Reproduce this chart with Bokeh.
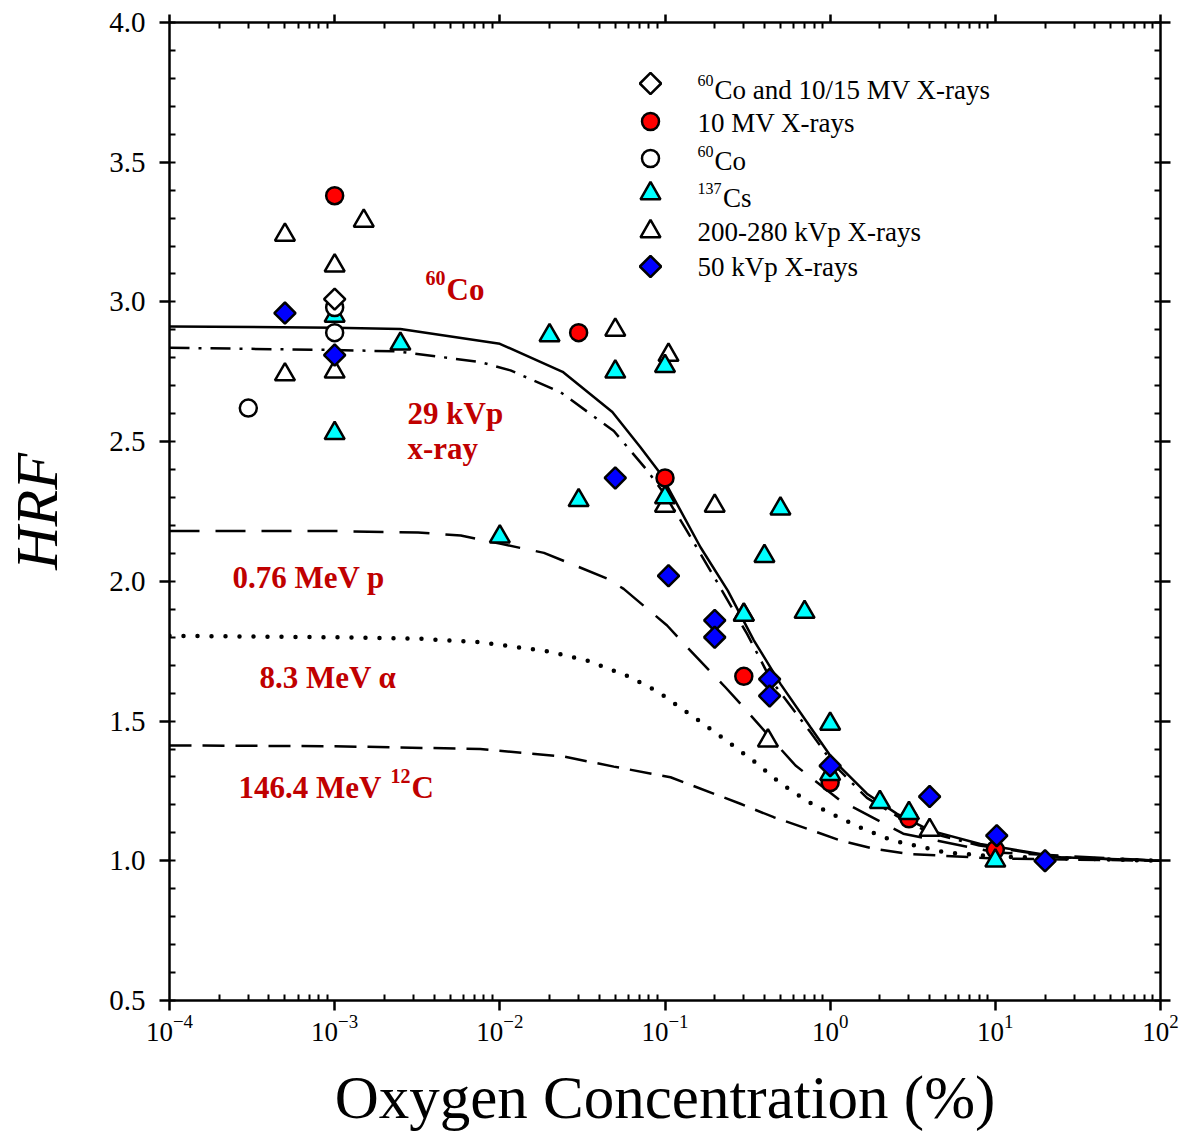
import numpy as np
from bokeh.plotting import figure
from bokeh.models import (FixedTicker, LogTickFormatter, LinearAxis, Label, Range1d,
                          SingleIntervalTicker, PrintfTickFormatter)
from bokeh.embed import file_html
from bokeh.resources import INLINE

# ---------------- data ----------------
# scatter series (oxygen %, HRF)
co_mv_x = [0.001]
co_mv_y = [3.01]
mv10_x = [0.001, 0.03, 0.1, 0.3, 1.0, 3.0, 10.0]
mv10_y = [3.38, 2.89, 2.37, 1.66, 1.28, 1.15, 1.04]
co60_x = [0.0003, 0.001, 0.001]
co60_y = [2.62, 2.98, 2.89]
cs137_x = [0.001, 0.001, 0.0025, 0.01, 0.02, 0.03, 0.05, 0.1, 0.1, 0.3, 0.4, 0.5,
           0.7, 1.0, 1.0, 2.0, 3.0, 10.0]
cs137_y = [2.95, 2.53, 2.85, 2.16, 2.88, 2.29, 2.75, 2.77, 2.30, 1.88, 2.09, 2.26,
           1.89, 1.49, 1.31, 1.21, 1.17, 1.00]
kvp200_x = [0.0005, 0.0005, 0.0015, 0.001, 0.001, 0.05, 0.105, 0.1, 0.2, 0.3, 0.42, 4.0]
kvp200_y = [3.24, 2.74, 3.29, 3.13, 2.75, 2.90, 2.81, 2.27, 2.27, 1.88, 1.43, 1.11]
kvp50_x = [0.0005, 0.001, 0.05, 0.105, 0.2, 0.2, 0.43, 0.43, 1.0, 4.0, 10.2, 20.0]
kvp50_y = [2.96, 2.81, 2.37, 2.02, 1.86, 1.80, 1.65, 1.59, 1.34, 1.23, 1.09, 1.00]

# model curves
co60_curve_x = [1e-4, 0.001, 0.0025, 0.01, 0.024, 0.048, 0.071, 0.094, 0.164, 0.24,
                0.345, 0.5, 0.76, 1.05, 1.67, 2.54, 4.05, 8.1, 24.7, 100]
co60_curve_y = [2.912, 2.908, 2.903, 2.85, 2.75, 2.606, 2.48, 2.385, 2.122, 1.967,
                1.789, 1.633, 1.478, 1.359, 1.24, 1.168, 1.108, 1.06, 1.013, 1.0]
kvp29_curve_x = [1e-4, 0.001, 0.0024, 0.0076, 0.0116, 0.0233, 0.049, 0.078, 0.1, 0.136,
                 0.207, 0.314, 0.44, 0.76, 1.05, 1.67, 2.54, 4.0, 8.0, 25.0, 100]
kvp29_curve_y = [2.836, 2.828, 2.823, 2.785, 2.755, 2.677, 2.538, 2.397, 2.31, 2.18,
                 1.997, 1.812, 1.645, 1.46, 1.345, 1.225, 1.16, 1.10, 1.055, 1.012, 1.0]
p076_curve_x = [1e-4, 0.001, 0.0032, 0.0058, 0.01, 0.0185, 0.0447, 0.0562, 0.103, 0.13,
                0.232, 0.286, 0.415, 0.617, 1.15, 2.77, 10, 100]
p076_curve_y = [2.18, 2.18, 2.175, 2.164, 2.135, 2.102, 2.01, 1.973, 1.842, 1.777,
                1.621, 1.562, 1.454, 1.341, 1.216, 1.097, 1.03, 1.0]
alpha_curve_x = [1e-4, 0.001, 0.0032, 0.0076, 0.0194, 0.0338, 0.06, 0.0895, 0.16, 0.232,
                 0.344, 0.5, 0.74, 1.1, 1.59, 2.37, 5.0, 10, 100]
alpha_curve_y = [1.805, 1.80, 1.795, 1.782, 1.75, 1.717, 1.66, 1.607, 1.502, 1.433,
                 1.357, 1.278, 1.21, 1.159, 1.114, 1.073, 1.03, 1.015, 1.0]
c12_curve_x = [1e-4, 0.001, 0.0076, 0.0244, 0.049, 0.108, 0.286, 0.455, 0.724, 1.15,
               1.84, 2.92, 10, 100]
c12_curve_y = [1.413, 1.41, 1.40, 1.373, 1.337, 1.299, 1.204, 1.156, 1.115, 1.073,
               1.043, 1.025, 1.008, 1.0]

x_major_ticks = [1e-4, 1e-3, 1e-2, 1e-1, 1e0, 1e1, 1e2]
x_minor_ticks = [k * d for d in x_major_ticks[:-1] for k in range(2, 10)]

# legend entries: (superscript, main text)
legend_labels = [("60", "Co and 10/15 MV X-rays"), ("", "10 MV X-rays"), ("60", "Co"),
                 ("137", "Cs"), ("", "200-280 kVp X-rays"), ("", "50 kVp X-rays")]
x_title = "Oxygen Concentration (%)"
y_title = "HRF"

SERIF = "Liberation Serif"
RED = "#c00000"

# ---------------- layout constants (pixels) ----------------
W, H = 1179, 1134
FL, FR, FT, FB = 169, 1160, 22, 1000
X0, X1, Y0, Y1 = 1e-4, 1e2, 0.5, 4.0


def px_x(px):
    return 10 ** (np.log10(X0) + (np.log10(X1) - np.log10(X0)) * (px - FL) / (FR - FL))


def px_y(py):
    return Y0 + (Y1 - Y0) * (FB - py) / (FB - FT)


p = figure(width=W, height=H, x_axis_type="log",
           x_range=Range1d(X0, X1), y_range=Range1d(Y0, Y1),
           output_backend="svg", toolbar_location=None,
           min_border_left=FL, min_border_top=FT, min_border_right=W - FR,
           min_border_bottom=H - FB)
p.xgrid.visible = False
p.ygrid.visible = False
p.outline_line_color = None
p.background_fill_color = "white"
p.border_fill_color = "white"


def style_axis(ax, labels=True, size="28px"):
    ax.axis_line_width = 2.5
    ax.axis_line_color = "black"
    ax.major_tick_line_width = 2.5
    ax.minor_tick_line_width = 2
    ax.major_tick_out = 10
    ax.major_tick_in = 0
    ax.minor_tick_out = 0
    ax.minor_tick_in = 6
    if labels:
        ax.major_label_text_font = SERIF
        ax.major_label_text_font_size = size
        ax.major_label_text_color = "black"
    else:
        ax.major_label_text_font_size = "1px"
        ax.major_label_text_alpha = 0
        ax.major_label_standoff = 0


xt = FixedTicker(ticks=x_major_ticks, minor_ticks=x_minor_ticks)
yt = SingleIntervalTicker(interval=0.5, num_minor_ticks=5)

xa = p.xaxis[0]
xa.ticker = xt
xa.formatter = LogTickFormatter()
style_axis(xa, size="27px")
xa.major_label_standoff = 4
xa.axis_label = x_title
xa.axis_label_text_font = SERIF
xa.axis_label_text_font_style = "normal"
xa.axis_label_text_font_size = "61px"
xa.axis_label_text_color = "black"
xa.axis_label_standoff = 20

ya = p.yaxis[0]
ya.ticker = yt
ya.formatter = PrintfTickFormatter(format="%.1f")
style_axis(ya, size="29px")
ya.major_label_standoff = 14
ya.axis_label = y_title
ya.axis_label_text_font = SERIF
ya.axis_label_text_font_style = "italic"
ya.axis_label_text_font_size = "60px"
ya.axis_label_text_color = "black"
ya.axis_label_standoff = 36

top = LinearAxis(ticker=xt)
style_axis(top, labels=False)
top.major_tick_out = 8
p.add_layout(top, "above")
right = LinearAxis(ticker=yt)
style_axis(right, labels=False)
right.major_tick_out = 10
p.add_layout(right, "right")

# curves
p.line(co60_curve_x, co60_curve_y, line_color="black", line_width=2.5)
p.line(kvp29_curve_x, kvp29_curve_y, line_color="black", line_width=2.5, line_dash="20 9 3 9")
p.line(p076_curve_x, p076_curve_y, line_color="black", line_width=2.5, line_dash="30 16")
p.line(alpha_curve_x, alpha_curve_y, line_color="black", line_width=4.5, line_dash="0 14",
       line_cap="round")
p.line(c12_curve_x, c12_curve_y, line_color="black", line_width=2.5, line_dash="22 11")

# marker styles
LW = 2.5
STYLES = {
    "comv": dict(marker="square", angle=np.pi / 4, size=15, fill_color="white"),
    "mv10": dict(marker="circle", size=17, fill_color="#ff0000"),
    "co60": dict(marker="circle", size=17, fill_color="white"),
    "cs": dict(marker="triangle", size=20, fill_color="#00ffff"),
    "kvp200": dict(marker="triangle", size=20, fill_color="white"),
    "kvp50": dict(marker="square", angle=np.pi / 4, size=15, fill_color="#0000ff"),
}

# scatter series (drawing order as in the reference)
p.scatter(kvp200_x, kvp200_y, line_color="black", line_width=LW, **STYLES["kvp200"])
p.scatter(mv10_x, mv10_y, line_color="black", line_width=LW, **STYLES["mv10"])
p.scatter(cs137_x, cs137_y, line_color="black", line_width=LW, **STYLES["cs"])
p.scatter(co60_x, co60_y, line_color="black", line_width=LW, **STYLES["co60"])
p.scatter(co_mv_x, co_mv_y, line_color="black", line_width=LW, **STYLES["comv"])
p.scatter(kvp50_x, kvp50_y, line_color="black", line_width=LW, **STYLES["kvp50"])

# legend (drawn by hand so that the diamond symbols keep their orientation)
LEG_MARK_PX = 650
LEG_TEXT_PX = 697
LEG_ROW_MARK_PY = [83, 121, 158, 193, 231, 266]
LEG_ROW_TEXT_PY = [89, 122, 160, 197, 231, 266]
leg_keys = ["comv", "mv10", "co60", "cs", "kvp200", "kvp50"]
for key, my, ty, (sup, txt) in zip(leg_keys, LEG_ROW_MARK_PY, LEG_ROW_TEXT_PY, legend_labels):
    p.scatter([px_x(LEG_MARK_PX)], [px_y(my)], line_color="black", line_width=LW,
              **STYLES[key])
    xo = 0
    if sup:
        p.add_layout(Label(x=px_x(LEG_TEXT_PX), y=px_y(ty), text=sup, y_offset=9,
                           text_font=SERIF, text_font_size="16px", text_color="black",
                           text_baseline="middle"))
        xo = 8.5 * len(sup)
    p.add_layout(Label(x=px_x(LEG_TEXT_PX), y=px_y(ty), text=txt, x_offset=xo,
                       text_font=SERIF, text_font_size="27px", text_color="black",
                       text_baseline="middle"))


# curve annotations
def lab(px, py, text, size=31, xo=0, yo=0):
    p.add_layout(Label(x=px_x(px), y=px_y(py), text=text, x_offset=xo, y_offset=yo,
                       text_font=SERIF, text_font_style="bold",
                       text_font_size=f"{size}px", text_color=RED,
                       text_baseline="middle", text_align="left"))


lab(425, 289, "60", size=20, yo=12)
lab(425, 289, "Co", xo=21)
lab(407, 413, "29 kVp")
lab(407, 448, "x-ray")
lab(232, 577, "0.76 MeV p")
lab(259, 677, "8.3 MeV \u03b1")
lab(238, 787, "146.4 MeV")
lab(238, 787, "12", size=20, xo=152, yo=12)
lab(238, 787, "C", xo=173)

open("out.html", "w").write(file_html(p, INLINE))
